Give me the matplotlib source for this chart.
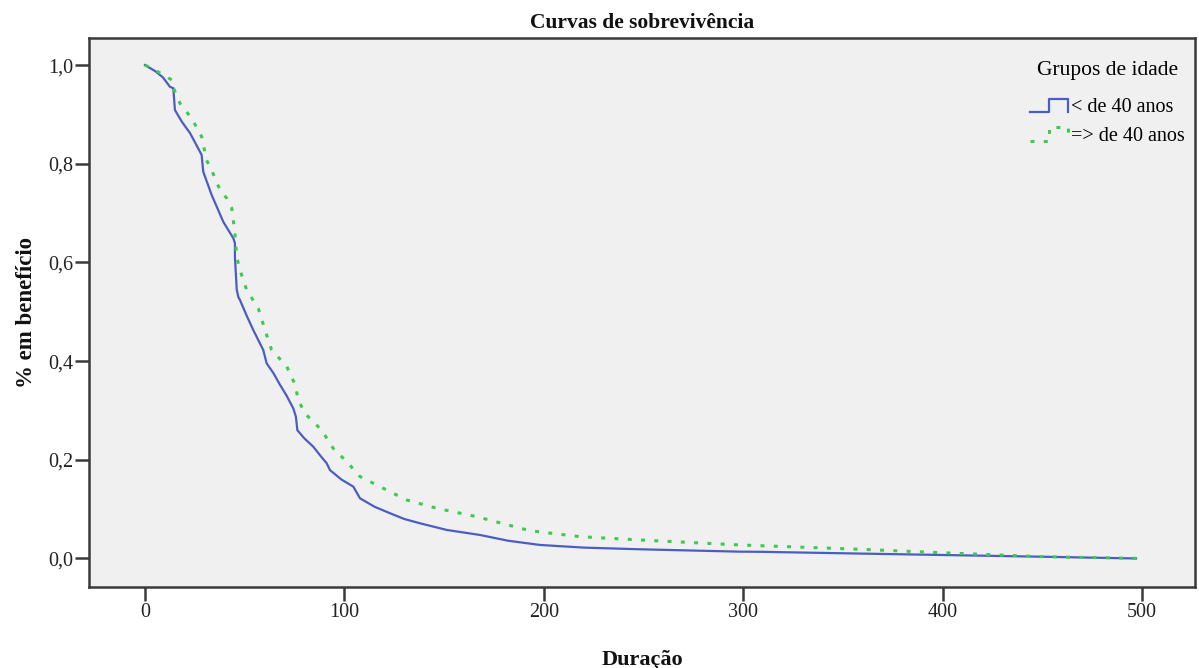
import numpy as np
import matplotlib
matplotlib.use("Agg")
import matplotlib.pyplot as plt
from matplotlib.lines import Line2D
from matplotlib.legend_handler import HandlerBase

# Kaplan-Meier estimates: time in days, proportion still receiving the benefit
tempo_menor40 = [0, 5, 9, 12.5, 14.2, 15, 18.5, 22.6, 28.4, 29.2, 33.4, 39.3, 44.3,
                 45.1, 45.1, 46, 46.8, 47.6, 51, 54.3, 59.3, 61, 64.5, 67.7, 71,
                 74.4, 75.7, 76.4, 80, 84.4, 88, 91.1, 92.8, 98.5, 104.5, 107.8,
                 115, 122.9, 130, 137.9, 151.3, 168, 182, 198, 220, 248, 298, 308,
                 350, 398.7, 450, 497]
sobrev_menor40 = [1.0, 0.988, 0.975, 0.956, 0.953, 0.909, 0.885, 0.862, 0.818, 0.784,
                  0.737, 0.682, 0.649, 0.639, 0.611, 0.545, 0.530, 0.524, 0.492,
                  0.463, 0.4225, 0.3955, 0.375, 0.352, 0.330, 0.304, 0.287, 0.260,
                  0.243, 0.2265, 0.208, 0.193, 0.179, 0.160, 0.1455, 0.122, 0.105,
                  0.0916, 0.080, 0.0713, 0.0578, 0.0476, 0.036, 0.0274, 0.022,
                  0.0186, 0.0138, 0.0135, 0.0105, 0.0071, 0.0035, 0.0]

tempo_maior40 = [0, 5, 9.2, 13.4, 15, 17.6, 23.4, 28.4, 30.9, 33.4, 37.6, 41, 43.5,
                 45.1, 46, 47.6, 51, 56.8, 60.2, 63.5, 71.1, 75.2, 76.9, 80.2, 88.6,
                 94.4, 101.2, 107.8, 117.9, 131.2, 146.3, 166.3, 193, 218, 248, 298,
                 358.6, 398.7, 448.8, 500.6]
sobrev_maior40 = [1.0, 0.99, 0.98, 0.97, 0.946, 0.922, 0.892, 0.855, 0.807, 0.787,
                  0.747, 0.730, 0.710, 0.659, 0.611, 0.585, 0.544, 0.507, 0.463,
                  0.4225, 0.389, 0.353, 0.321, 0.294, 0.260, 0.223, 0.196, 0.166,
                  0.1455, 0.1185, 0.1017, 0.0847, 0.0563, 0.0442, 0.0375, 0.0274,
                  0.0186, 0.0118, 0.0037, 0.0]

rotulos_grupo = ["< de 40 anos", "=> de 40 anos"]
x_ticks = [0, 100, 200, 300, 400, 500]
y_ticks = [0.0, 0.2, 0.4, 0.6, 0.8, 1.0]

cor_azul = "#4A5DC2"
cor_verde = "#3CCB4F"
cor_eixo = "#3a3a3a"
tracejado_verde = (0, (1.3, 3.05))
fonte = ["Liberation Serif", "DejaVu Serif"]

plt.rcParams["font.family"] = fonte


class StepHandler(HandlerBase):
    """Legend key drawn as a small survival-step glyph."""

    def create_artists(self, legend, orig_handle, xdescent, ydescent,
                       width, height, fontsize, trans):
        xs = np.array([0.0, 0.5, 0.5, 1.0, 1.0]) * width - xdescent
        ys = np.array([0.05, 0.05, 0.95, 0.95, 0.05]) * height - ydescent
        line = Line2D(xs, ys)
        line.update_from(orig_handle)
        line.set_marker("")
        line.set_transform(trans)
        return [line]


fig = plt.figure(figsize=(11.99, 6.68), dpi=100)
ax = fig.add_axes([0.0742, 0.1213, 0.9225, 0.8217])
ax.set_facecolor("#F0F0F0")

ax.plot(tempo_menor40, sobrev_menor40, color=cor_azul, lw=1.6,
        solid_joinstyle="miter")
ax.plot(tempo_maior40, sobrev_maior40, color=cor_verde, lw=2.2,
        linestyle=tracejado_verde, dash_capstyle="butt")

ax.set_xlim(-28.1, 526.6)
ax.set_ylim(-0.0578, 1.0547)
ax.set_xticks(x_ticks)
ax.set_xticklabels([str(v) for v in x_ticks])
ax.set_yticks(y_ticks)
ax.set_yticklabels([f"{v:.1f}".replace(".", ",") for v in y_ticks])

for s in ax.spines.values():
    s.set_color(cor_eixo)
    s.set_linewidth(1.8)
ax.tick_params(axis="both", direction="out", length=10, width=1.8,
               color=cor_eixo, labelsize=14.5, labelcolor="#222222", pad=1.5)

ax.set_title("Curvas de sobrevivência", fontsize=15.5, fontweight="bold",
             pad=7, color="#111111")
ax.set_xlabel("Duração", fontsize=16, fontweight="bold", labelpad=20,
              color="#111111")
ax.set_ylabel("% em benefício", fontsize=16.5, fontweight="bold", labelpad=8,
              color="#111111")

h_azul = Line2D([], [], color=cor_azul, lw=1.6)
h_verde = Line2D([], [], color=cor_verde, lw=2.2, linestyle=tracejado_verde)
leg = ax.legend([h_azul, h_verde], rotulos_grupo, title="Grupos de idade",
                loc="upper right", bbox_to_anchor=(1189 / 1199, 1 - 57 / 668),
                bbox_transform=fig.transFigure, frameon=False,
                fontsize=14.5, title_fontsize=15.5, handlelength=1.9,
                handleheight=0.75, handletextpad=0.15, labelspacing=0.45,
                borderaxespad=0.0, borderpad=0.2,
                handler_map={Line2D: StepHandler()})
leg._legend_box.sep = 13

fig.savefig("out.png", dpi=100, facecolor="white")
